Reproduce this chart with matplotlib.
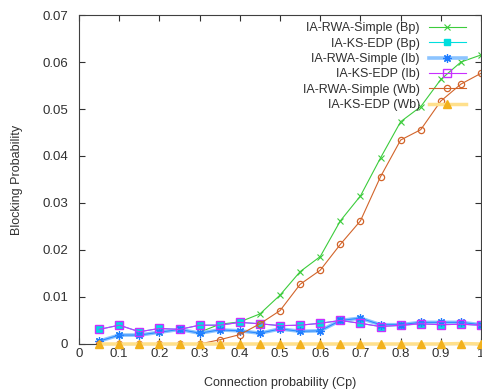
# Blocking probability vs connection probability

import numpy as np
from matplotlib import pyplot as plt

plt.rcParams['font.family'] = ['Liberation Sans', 'DejaVu Sans']

cp = [0.05, 0.1, 0.15, 0.2, 0.25, 0.3, 0.35, 0.4, 0.45, 0.5,
      0.55, 0.6, 0.65, 0.7, 0.75, 0.8, 0.85, 0.9, 0.95, 1.0]

rwa_bp = [0.0006, 0.0019, 0.0019, 0.0025, 0.0031, 0.0025, 0.0042, 0.0047, 0.0064, 0.0104,
          0.0154, 0.0186, 0.0262, 0.0315, 0.0396, 0.0473, 0.0505, 0.0563, 0.0600, 0.0615]
ks_bp = [0.0031, 0.0040, 0.0026, 0.0033, 0.0031, 0.0040, 0.0040, 0.0046, 0.0043, 0.0039,
         0.0040, 0.0044, 0.0050, 0.0044, 0.0037, 0.0040, 0.0043, 0.0041, 0.0042, 0.0040]
rwa_ib = [0.0006, 0.0019, 0.0019, 0.0025, 0.0031, 0.0023, 0.0030, 0.0028, 0.0023, 0.0032,
          0.0027, 0.0028, 0.0050, 0.0055, 0.0041, 0.0041, 0.0046, 0.0046, 0.0046, 0.0041]
ks_ib = [0.0031, 0.0040, 0.0026, 0.0033, 0.0031, 0.0040, 0.0040, 0.0046, 0.0043, 0.0039,
         0.0040, 0.0044, 0.0050, 0.0044, 0.0037, 0.0040, 0.0043, 0.0041, 0.0042, 0.0040]
rwa_wb = [0, 0, 0, 0, 0, 0, 0.0009, 0.0020, 0.0043, 0.0071,
          0.0127, 0.0157, 0.0212, 0.0262, 0.0356, 0.0434, 0.0456, 0.0517, 0.0553, 0.0576]
ks_wb = [0, 0, 0, 0, 0, 0, 0, 0, 0, 0,
         0, 0, 0, 0, 0, 0, 0, 0, 0.0001, 0]

fig = plt.figure(figsize=(4.82, 3.9), dpi=100)
ax = fig.add_axes([0.164, 0.118, 0.834, 0.8435])

txt = '#303030'
ax.plot(cp, rwa_bp, color='#3ccc3c', lw=0.8, marker='x', ms=5, mew=0.8,
        label='IA-RWA-Simple (Bp)')
ax.plot(cp, ks_bp, color='#00dede', lw=0.8, marker='s', ms=4.5,
        label='IA-KS-EDP (Bp)')
ax.plot(cp, rwa_ib, color='#8cc4ff', lw=2.6, marker=(8, 2, 0), ms=6, mew=0.9,
        mec='#1e7cff', mfc='#1e7cff', label='IA-RWA-Simple (Ib)')
ax.plot(cp, rwa_ib, color='#2a8aff', lw=0.8)
ax.plot(cp, ks_ib, color='#c830ff', lw=0.8, marker='s', ms=5.5, mfc='none', mew=1.0,
        label='IA-KS-EDP (Ib)')
ax.plot(cp, rwa_wb, color='#d2642a', lw=0.8, marker='o', ms=4.5, mfc='none', mew=0.9,
        label='IA-RWA-Simple (Wb)')
ax.plot(cp, ks_wb, color='#ffe08c', lw=2.5, marker='^', ms=6, mfc='#f2b11c', mec='#f2b11c',
        label='IA-KS-EDP (Wb)', clip_on=False, zorder=5)

ax.set_xlim(0, 1)
ax.set_ylim(0, 0.07)
ax.set_xticks(np.arange(0, 1.01, 0.1))
ax.set_xticklabels(['0', '0.1', '0.2', '0.3', '0.4', '0.5', '0.6', '0.7', '0.8', '0.9', '1'])
ax.set_yticks(np.arange(0, 0.071, 0.01))
ax.set_yticklabels(['0', '0.01', '0.02', '0.03', '0.04', '0.05', '0.06', '0.07'])
ax.tick_params(direction='in', length=4, width=0.8, top=True, right=True,
               labelsize=9.5, colors=txt)
ax.tick_params(axis='x', pad=3)
ax.tick_params(axis='y', pad=8)
for s in ax.spines.values():
    s.set_color('#404040')
    s.set_linewidth(0.8)

ax.set_xlabel('Connection probability (Cp)', fontsize=9, color=txt, labelpad=12)
ax.set_ylabel('Blocking Probability', fontsize=9, color=txt, labelpad=14)

leg = ax.legend(loc='upper right', bbox_to_anchor=(0.963, 0.978), frameon=False,
                markerfirst=False, fontsize=9, handlelength=3.0, labelspacing=0.27,
                borderaxespad=0, borderpad=0, handletextpad=0.7)
for t in leg.get_texts():
    t.set_color(txt)

plt.savefig('out.png', dpi=100)
